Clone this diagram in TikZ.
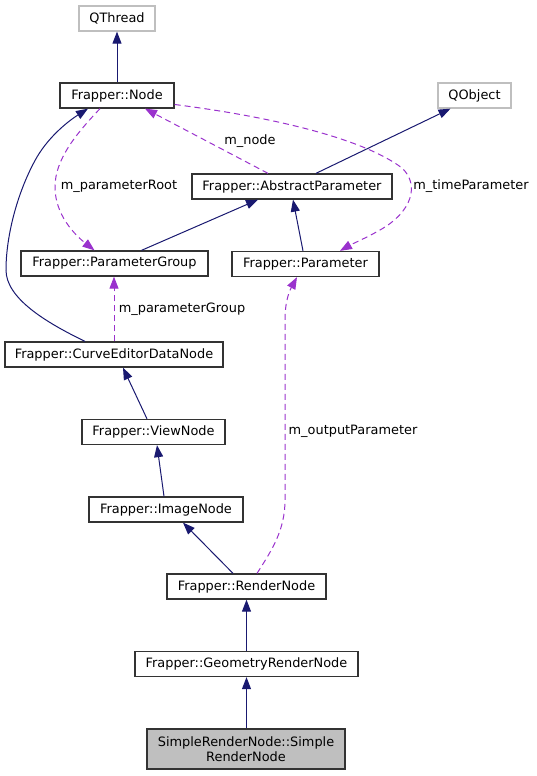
\documentclass[tikz,border=0pt]{standalone}
\usepackage{fontspec}
\setmainfont{DejaVu Sans}
\usetikzlibrary{arrows.meta}

\definecolor{navy}{HTML}{191970}
\definecolor{orchid}{HTML}{9A32CD}
\definecolor{boxgray}{HTML}{BFBFBF}

\begin{document}
\begin{tikzpicture}[x=1pt, y=-1pt,
        cls/.style={draw=black!80, line width=1.3pt, rectangle, inner sep=0pt, minimum height=25pt, font=\fontsize{12.9}{14.5}\selectfont},
        extcls/.style={cls, draw=boxgray},
        inh/.style={draw=navy, line width=1pt, -{Triangle[length=12pt,width=9pt]}},
        use/.style={draw=orchid, line width=1pt, dash pattern=on 6pt off 4pt, -{Triangle[length=12pt,width=9pt]}},
        lbl/.style={inner sep=0pt, font=\fontsize{12.9}{14.5}\selectfont}]

        \useasboundingbox (0,0) rectangle (536,776);

        % Klassen
        \begin{scope}
            \node[extcls, minimum width=76pt]  (qthread)    at (117,18.5)   {QThread};
            \node[cls, minimum width=114pt]    (node)       at (117,95.5)   {Frapper::Node};
            \node[extcls, minimum width=73pt]  (qobject)    at (474.5,95.5) {QObject};
            \node[cls, minimum width=200pt]    (absparam)   at (292,186.5)  {Frapper::AbstractParameter};
            \node[cls, minimum width=147pt]    (param)      at (305.5,264)  {Frapper::Parameter};
            \node[cls, minimum width=187pt]    (paramgroup) at (114.5,263.5) {Frapper::ParameterGroup};
            \node[cls, minimum width=218pt]    (curve)      at (114,354.5)  {Frapper::CurveEditorDataNode};
            \node[cls, minimum width=143pt]    (view)       at (153.5,432)  {Frapper::ViewNode};
            \node[cls, minimum width=154pt]    (image)      at (166,509.5)  {Frapper::ImageNode};
            \node[cls, minimum width=159pt]    (render)     at (246.5,586.5) {Frapper::RenderNode};
            \node[cls, minimum width=223pt]    (geom)       at (246.5,664)  {Frapper::GeometryRenderNode};
            \node[cls, minimum width=198pt, minimum height=40pt, fill=boxgray, align=center]
                                               (simple)     at (246,749)    {SimpleRenderNode::Simple\\RenderNode};
        \end{scope}

        % Vererbung
        \begin{scope}
            \draw[inh] (node.north) -- (qthread.south);
            \draw[inh] ([xshift=24pt]absparam.north) -- ([xshift=-24pt]qobject.south);
            \draw[inh] ([xshift=27pt]paramgroup.north) -- ([xshift=-34pt]absparam.south);
            \draw[inh] ([xshift=-2.5pt]param.north) -- ([xshift=1pt]absparam.south);
            \draw[inh] ([xshift=-29pt]curve.north) .. controls (45,322) and (6,298) .. (6,270)
                .. controls (6,235) and (18,190) .. (37,157) .. controls (50,135) and (70,120) .. ([xshift=-29pt]node.south);
            \draw[inh] ([xshift=-6.5pt]view.north) -- ([xshift=9pt]curve.south);
            \draw[inh] ([xshift=-2pt]image.north) -- ([xshift=3.5pt]view.south);
            \draw[inh] ([xshift=-13.5pt]render.north) -- ([xshift=17pt]image.south);
            \draw[inh] (geom.north) -- (render.south);
            \draw[inh] ([xshift=0.5pt]simple.north) -- (geom.south);
        \end{scope}

        % Attribute
        \begin{scope}
            \draw[use] ([xshift=-24pt]absparam.north) -- ([xshift=28pt]node.south);
            \node[lbl] (lnode) at (250,141) {m\_node};

            \draw[use] ([yshift=-9pt]node.east) .. controls (280,118) and (365,140) .. (402,168)
                .. controls (420,185) and (412,212) .. (380,230) .. controls (366,238) and (352,244) .. ([xshift=34.5pt]param.north);
            \node[lbl] (ltime) at (471,186) {m\_timeParameter};

            \draw[use] ([xshift=-17pt]node.south) .. controls (75,135) and (55,160) .. (55,187)
                .. controls (55,215) and (75,235) .. ([xshift=-20pt]paramgroup.north);
            \node[lbl] (lroot) at (119,186) {m\_parameterRoot};

            \draw[use] (curve.north) -- ([xshift=-0.5pt]paramgroup.south);
            \node[lbl] (lgroup) at (182,309) {m\_parameterGroup};

            \draw[use] ([xshift=10.5pt]render.north) .. controls (272,550) and (285,530) .. (285,500)
                -- (285,320) .. controls (285,300) and (290,290) .. ([xshift=-8.5pt]param.south);
            \node[lbl] (lout) at (353,431) {m\_outputParameter};
        \end{scope}
    \end{tikzpicture}
\end{document}
